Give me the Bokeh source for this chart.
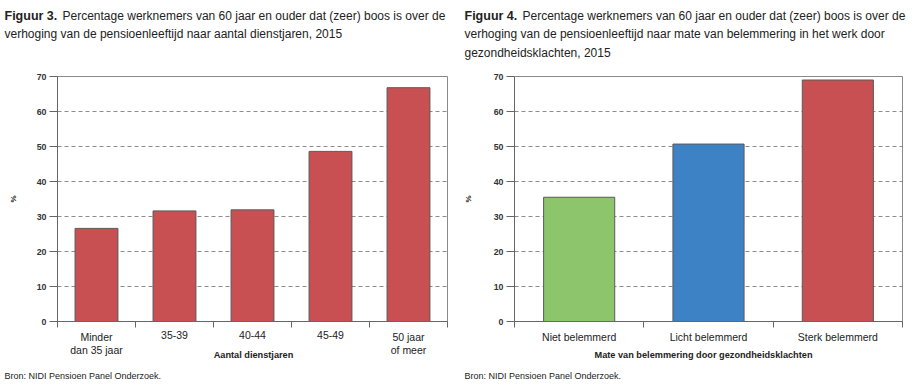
from bokeh.plotting import figure
from bokeh.models import Range1d, FixedTicker, Label, LinearAxis, Grid
from bokeh.layouts import row, column
from bokeh.core.properties import value
from bokeh.embed import file_html
from bokeh.resources import INLINE

# ---- data ----
fig3_categories = ["Minder\ndan 35 jaar", "35-39", "40-44", "45-49", "50 jaar\nof meer"]
fig3_values = [26.6, 31.6, 31.9, 48.6, 66.8]
fig3_colors = ["#C85052"] * 5

fig4_categories = ["Niet belemmerd", "Licht belemmerd", "Sterk belemmerd"]
fig4_values = [35.5, 50.7, 69.0]
fig4_colors = ["#8CC56C", "#3E82C6", "#C85052"]

y_ticks = [0, 10, 20, 30, 40, 50, 60, 70]
grid_ticks = [10, 20, 30, 40, 50, 60]

fig3_title_bold = "Figuur 3."
fig3_title_lines = ["Percentage werknemers van 60 jaar en ouder dat (zeer) boos is over de",
                    "verhoging van de pensioenleeftijd naar aantal dienstjaren, 2015"]
fig4_title_bold = "Figuur 4."
fig4_title_lines = ["Percentage werknemers van 60 jaar en ouder dat (zeer) boos is over de",
                    "verhoging van de pensioenleeftijd naar mate van belemmering in het werk door",
                    "gezondheidsklachten, 2015"]
fig3_xlabel = "Aantal dienstjaren"
fig4_xlabel = "Mate van belemmering door gezondheidsklachten"
y_label = "%"
source_text = "Bron: NIDI Pensioen Panel Onderzoek."

FONT = "Liberation Sans"
TXT = "#222222"
AX = "#666666"

W1, W2 = 460, 461
TITLE_H = 66
CHART_H = 262
CAT_H = 34
SRC_H = 21


def strip(width, height, x_range=None, left=0, right=0):
    p = figure(width=width, height=height, output_backend="svg", toolbar_location=None,
               x_range=x_range if x_range is not None else Range1d(0, width),
               y_range=Range1d(height, 0), x_axis_type=None, y_axis_type=None,
               min_border=0, min_border_left=left, min_border_right=right)
    p.xgrid.visible = False
    p.ygrid.visible = False
    p.outline_line_color = None
    return p


def add_title(t, x0, tbold, tlines):
    t.add_layout(Label(x=x0 + 4, y=15, text=tbold, text_font=FONT, text_font_style="bold",
                       text_font_size="12.5px", text_color=TXT, text_baseline="middle"))
    for i, line in enumerate(tlines):
        t.add_layout(Label(x=x0 + (62 if i == 0 else 4), y=15 + 18.6 * i, text=line,
                           text_font=FONT, text_font_size="12px",
                           text_color=TXT, text_baseline="middle"))


def make_chart(width, b_left, b_right, cats, vals, colors, xlabel, ylab_standoff, xlab_offset):
    n = len(cats)
    centers = list(range(n))
    bounds = [i - 0.5 for i in range(n + 1)]
    xr = Range1d(-0.5, n - 0.5)

    p = figure(width=width, height=CHART_H, output_backend="svg", toolbar_location=None,
               x_range=xr, y_range=Range1d(0, 70),
               x_axis_type=None, y_axis_type=None,
               min_border_left=b_left, min_border_right=b_right,
               min_border_top=10, min_border_bottom=7)
    p.xgrid.visible = False
    p.ygrid.visible = False
    p.outline_line_color = "#8a8a8a"
    p.outline_line_width = 1

    p.add_layout(Grid(dimension=1, ticker=FixedTicker(ticks=grid_ticks),
                      grid_line_color="#8c8c8c", grid_line_dash="4 3", grid_line_width=1))

    p.vbar(x=centers, top=vals, bottom=0, width=0.55, fill_color=colors,
           line_color="#5a5a5a", line_width=1)

    yax = LinearAxis(ticker=FixedTicker(ticks=y_ticks, minor_ticks=[]),
                     axis_line_color=AX, major_tick_line_color=AX,
                     major_tick_out=8, major_tick_in=0, minor_tick_line_color=None,
                     major_label_text_font=FONT, major_label_text_font_size="8.8px",
                     major_label_text_font_style="bold",
                     major_label_text_color="#333333", major_label_standoff=3,
                     axis_label=y_label, axis_label_text_font=FONT,
                     axis_label_text_font_size="8px", axis_label_text_font_style="bold",
                     axis_label_text_color=TXT, axis_label_standoff=ylab_standoff)
    p.add_layout(yax, "left")

    xax = LinearAxis(ticker=FixedTicker(ticks=[], minor_ticks=bounds),
                     axis_line_color=AX, major_tick_line_color=None,
                     major_tick_out=0, major_tick_in=0,
                     minor_tick_line_color=AX, minor_tick_out=6, minor_tick_in=0,
                     major_label_text_font_size="0px", major_label_standoff=0)
    p.add_layout(xax, "below")

    c = strip(width, CAT_H, x_range=xr, left=b_left, right=b_right)
    c.text(x=centers, y=[2.5] * n, text=cats, text_font=value(FONT),
           text_font_size="10.5px", text_color=TXT, text_align="center",
           text_baseline="top", text_line_height=1.12)
    c.add_layout(Label(x=(n - 1) / 2, y=26, x_offset=xlab_offset, text=xlabel,
                       text_font=FONT, text_font_size="9.2px", text_font_style="bold",
                       text_color=TXT, text_align="center", text_baseline="middle"))
    return column(p, c, spacing=0)


# titles across the full width
titles = strip(W1 + W2, TITLE_H)
add_title(titles, 0, fig3_title_bold, fig3_title_lines)
add_title(titles, W1, fig4_title_bold, fig4_title_lines)

left_chart = make_chart(W1, 57, 13, fig3_categories, fig3_values, fig3_colors,
                        fig3_xlabel, 16, 1)
right_chart = make_chart(W2, 51, 19, fig4_categories, fig4_values, fig4_colors,
                         fig4_xlabel, 18, -5)

# sources across the full width
sources = strip(W1 + W2, SRC_H)
for x0 in (0, W1):
    sources.add_layout(Label(x=x0 + 4, y=13, text=source_text, text_font=FONT,
                             text_font_size="9px", text_color=TXT,
                             text_baseline="middle"))

layout = column(titles, row(left_chart, right_chart, spacing=0), sources, spacing=0)
open("out.html", "w").write(file_html(layout, INLINE))
